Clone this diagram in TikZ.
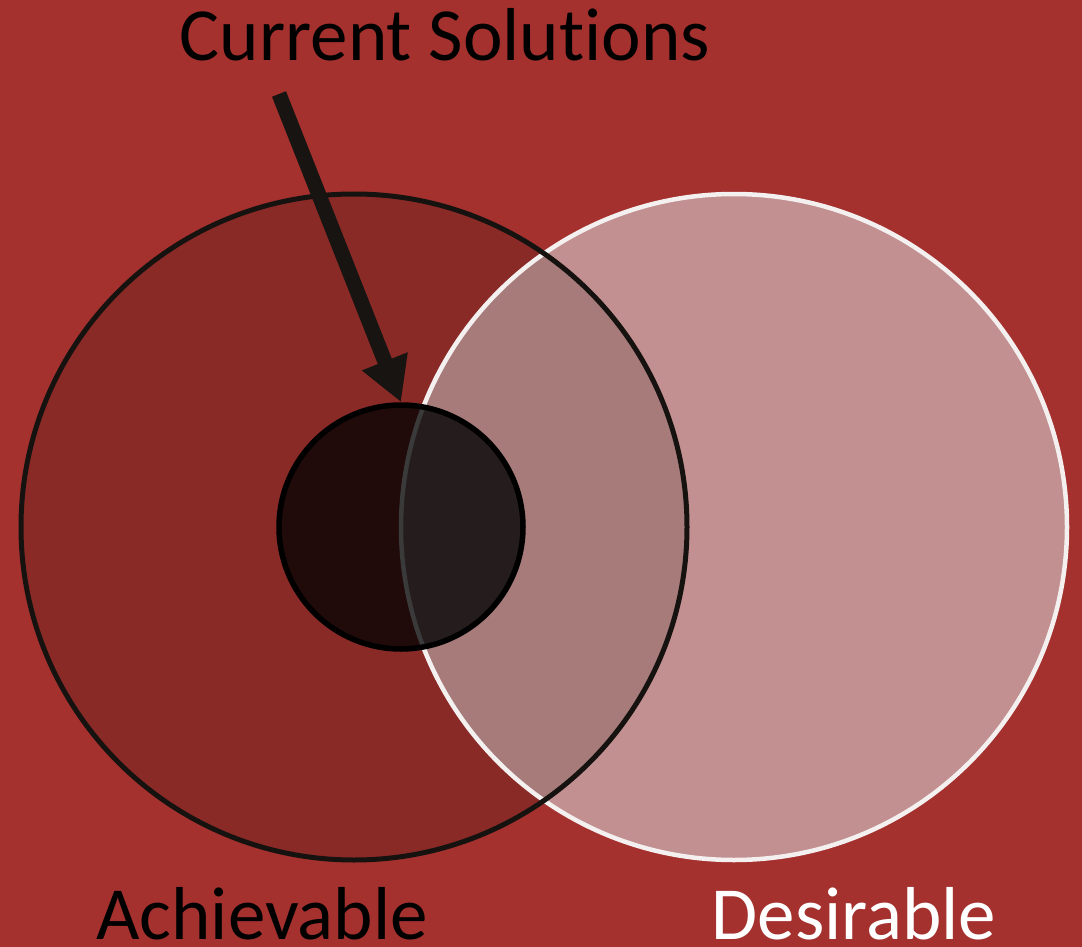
\documentclass[tikz,border=0pt]{standalone}
\usepackage{fontspec}
\setmainfont{Carlito}[Ligatures={NoCommon,NoContextual}]
\usetikzlibrary{arrows.meta}
\definecolor{bgred}{HTML}{A4312E}
\definecolor{achfill}{HTML}{8A2A27}
\definecolor{desfill}{HTML}{C29090}
\definecolor{overfill}{HTML}{A67B7A}
\definecolor{solleft}{HTML}{200A0A}
\definecolor{solright}{HTML}{251D1D}
\definecolor{darkstroke}{HTML}{161210}
\definecolor{lightstroke}{HTML}{F4F0F0}
\definecolor{grayline}{HTML}{3A3A3A}
\definecolor{arrowcol}{HTML}{171411}
\tikzset{
  bigtext/.style={font=\fontsize{75}{90}\selectfont, anchor=base, inner sep=0pt},
}
\begin{document}
\begin{tikzpicture}[x=1pt,y=-1pt]
\fill[bgred] (0,0) rectangle (1082,947);
\useasboundingbox (0,0) rectangle (1082,947);
\coordinate (A) at (354,527);
\coordinate (D) at (734,527);
\coordinate (S) at (401,527);
\coordinate (start) at (279,94);
% fills
\fill[achfill] (A) circle[radius=333pt];
\fill[desfill] (D) circle[radius=333pt];
\begin{scope}
  \clip (A) circle[radius=333pt];
  \fill[overfill] (D) circle[radius=333pt];
\end{scope}
% strokes of big circles
\draw[line width=4.5pt, lightstroke] (D) circle[radius=333pt];
\draw[line width=5pt, darkstroke] (A) circle[radius=333pt];
% small circle
\fill[solleft] (S) circle[radius=122pt];
\begin{scope}
  \clip (D) circle[radius=333pt];
  \fill[solright] (S) circle[radius=122pt];
\end{scope}
\begin{scope}
  \clip (S) circle[radius=122pt];
  \draw[line width=4.5pt, grayline] (D) circle[radius=333pt];
\end{scope}
\node[circle, minimum size=244pt, inner sep=0pt, draw=black, line width=5.5pt] (sol) at (S) {};
% arrow
\draw[arrowcol, line width=15pt, -{Triangle[length=44pt,width=46pt]}] (start) -- (sol.north);
% labels
\node[bigtext, text=black] (cs) at (445,61) {Current Solut\kern0pt ions};
\node[bigtext, text=black] (ach) at (262,939) {Achievable};
\node[bigtext, text=white] (des) at (854,939) {Desirable};
\end{tikzpicture}
\end{document}
